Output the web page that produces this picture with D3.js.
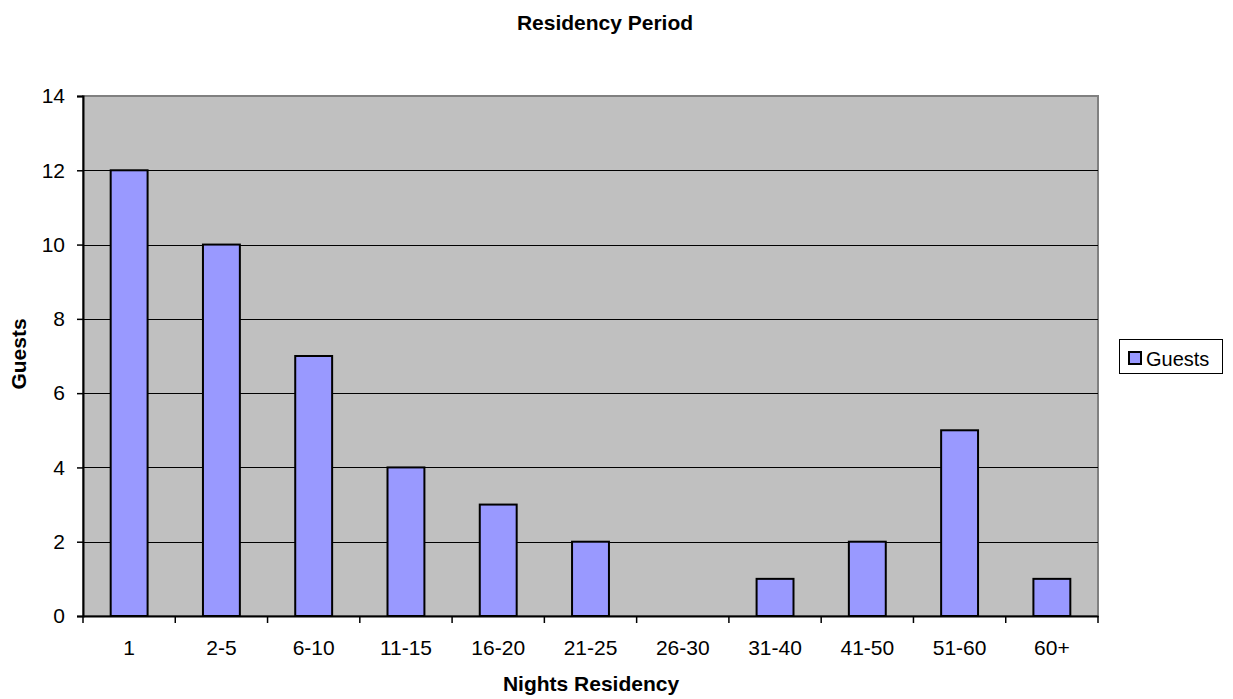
<!DOCTYPE html>
<html>
<head>
<meta charset="utf-8">
<script src="https://cdn.jsdelivr.net/npm/d3@7"></script>
<style>
  body { margin: 0; background: #fff; }
  text { font-family: Arial, "Liberation Sans", sans-serif; fill: #000; }
</style>
</head>
<body>
<div id="chart"></div>
<script>
var categories = ["1", "2-5", "6-10", "11-15", "16-20", "21-25", "26-30", "31-40", "41-50", "51-60", "60+"];
var guests = [12, 10, 7, 4, 3, 2, 0, 1, 2, 5, 1];
var yTicks = [0, 2, 4, 6, 8, 10, 12, 14];

var width = 1233, height = 699;
var plot = { left: 83, top: 96, right: 1098, bottom: 616 };

var svg = d3.select("#chart").append("svg")
    .attr("width", width)
    .attr("height", height);

var x = d3.scaleBand()
    .domain(categories)
    .range([plot.left, plot.right])
    .paddingInner(0.6)
    .paddingOuter(0.3);

var xTick = d3.scaleBand()
    .domain(categories)
    .range([plot.left, plot.right]);

var y = d3.scaleLinear()
    .domain([0, 14])
    .range([plot.bottom, plot.top]);

// plot background
svg.append("rect")
    .attr("x", plot.left)
    .attr("y", plot.top)
    .attr("width", plot.right - plot.left)
    .attr("height", plot.bottom - plot.top)
    .attr("fill", "#c0c0c0")
    .attr("stroke", "#808080")
    .attr("stroke-width", 2);

// gridlines
svg.append("g")
  .selectAll("line")
  .data(yTicks.filter(function(d) { return d > 0 && d < 14; }))
  .enter().append("line")
    .attr("x1", plot.left)
    .attr("x2", plot.right)
    .attr("y1", function(d) { return Math.round(y(d)) + 0.5; })
    .attr("y2", function(d) { return Math.round(y(d)) + 0.5; })
    .attr("stroke", "#000")
    .attr("stroke-width", 1);

// bars
svg.append("g")
  .selectAll("rect")
  .data(guests)
  .enter().append("rect")
    .attr("x", function(d, i) { return x(categories[i]); })
    .attr("y", function(d) { return y(d); })
    .attr("width", x.bandwidth())
    .attr("height", function(d) { return y(0) - y(d); })
    .attr("fill", "#9999ff")
    .attr("stroke", "#000")
    .attr("stroke-width", 2)
    .style("display", function(d) { return d > 0 ? null : "none"; });

// y axis
var yAxis = svg.append("g")
    .attr("transform", "translate(" + plot.left + ",0)")
    .call(d3.axisLeft(y).tickValues(yTicks).tickSize(6).tickPadding(12));
yAxis.select(".domain").attr("stroke", "#000").attr("stroke-width", 2);
yAxis.selectAll(".tick line").attr("stroke", "#000").attr("stroke-width", 1.5);
yAxis.selectAll("text").style("font-size", "21px").attr("fill", "#000");

// x axis
var xAxis = svg.append("g")
    .attr("transform", "translate(0," + plot.bottom + ")")
    .call(d3.axisBottom(xTick).tickSize(0).tickPadding(24));
xAxis.select(".domain").attr("stroke", "#000").attr("stroke-width", 2);
xAxis.selectAll("text").style("font-size", "21px").attr("fill", "#000");

// x tick marks at band boundaries
svg.append("g")
  .selectAll("line")
  .data(categories.concat(["end"]))
  .enter().append("line")
    .attr("x1", function(d, i) { return i < categories.length ? xTick(d) : plot.right; })
    .attr("x2", function(d, i) { return i < categories.length ? xTick(d) : plot.right; })
    .attr("y1", plot.bottom)
    .attr("y2", plot.bottom + 7)
    .attr("stroke", "#000")
    .attr("stroke-width", 1.5);

// titles
svg.append("text")
    .attr("x", 605)
    .attr("y", 30)
    .attr("text-anchor", "middle")
    .style("font-size", "21px")
    .style("font-weight", "bold")
    .text("Residency Period");

svg.append("text")
    .attr("x", 591)
    .attr("y", 691)
    .attr("text-anchor", "middle")
    .style("font-size", "21px")
    .style("font-weight", "bold")
    .text("Nights Residency");

svg.append("text")
    .attr("transform", "translate(26,354) rotate(-90)")
    .attr("text-anchor", "middle")
    .style("font-size", "21px")
    .style("font-weight", "bold")
    .text("Guests");

// legend
var legend = svg.append("g");
legend.append("rect")
    .attr("x", 1119.5)
    .attr("y", 339.5)
    .attr("width", 103)
    .attr("height", 34)
    .attr("fill", "#fff")
    .attr("stroke", "#000")
    .attr("stroke-width", 1);
legend.append("rect")
    .attr("x", 1129)
    .attr("y", 352)
    .attr("width", 12)
    .attr("height", 12)
    .attr("fill", "#9999ff")
    .attr("stroke", "#000")
    .attr("stroke-width", 2);
legend.append("text")
    .attr("x", 1146)
    .attr("y", 366)
    .style("font-size", "20px")
    .text("Guests");
</script>
</body>
</html>
